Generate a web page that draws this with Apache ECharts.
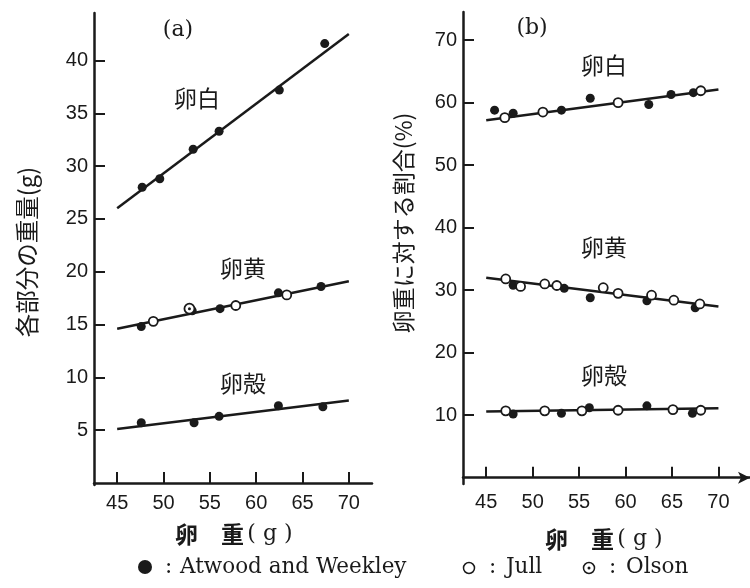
<!DOCTYPE html>
<html><head><meta charset="utf-8">
<script src="https://cdn.jsdelivr.net/npm/echarts@6/dist/echarts.min.js"></script>
<style>html,body{margin:0;padding:0;background:#fff}#c{width:750px;height:588px}</style>
</head><body><div id="c"></div>
<script>
// ---- data ----
const xTicks = [45, 50, 55, 60, 65, 70];
const leftYTicks = [5, 10, 15, 20, 25, 30, 35, 40];
const rightYTicks = [10, 20, 30, 40, 50, 60, 70];

// (a) weight of each part (g)
const aWhiteAW = [[47.7,28.0],[49.6,28.8],[53.2,31.6],[56.0,33.3],[62.5,37.2],[67.4,41.6]];
const aWhiteLine = [[45,26.0],[70,42.5]];
const aYolkAW = [[47.6,14.8],[53.1,16.3],[56.1,16.5],[62.4,18.0],[67.0,18.6]];
const aYolkJull = [[48.9,15.3],[57.8,16.8],[63.3,17.8]];
const aYolkOlson = [[52.8,16.5]];
const aYolkLine = [[45,14.6],[70,19.1]];
const aShellAW = [[47.6,5.7],[53.3,5.7],[56.0,6.3],[62.4,7.3],[67.2,7.2]];
const aShellLine = [[45,5.1],[70,7.8]];

// (b) ratio to egg weight (%)
const bWhiteAW = [[45.9,58.8],[47.9,58.3],[53.1,58.8],[56.2,60.7],[62.5,59.7],[64.9,61.3],[67.3,61.6]];
const bWhiteJull = [[47.0,57.6],[51.1,58.5],[59.2,60.0],[68.1,61.9]];
const bWhiteLine = [[45,57.2],[70,62.1]];
const bYolkAW = [[47.9,30.8],[53.4,30.3],[56.2,28.8],[62.3,28.3],[67.5,27.2]];
const bYolkJull = [[47.1,31.8],[48.7,30.6],[51.3,31.0],[52.6,30.75],[57.6,30.4],[59.2,29.5],[62.8,29.2],[65.2,28.4],[68.0,27.8]];
const bYolkLine = [[45,32.0],[70,27.4]];
const bShellAW = [[47.9,10.2],[53.1,10.3],[56.1,11.2],[62.3,11.5],[67.2,10.3]];
const bShellJull = [[47.1,10.7],[51.3,10.7],[55.3,10.7],[59.2,10.8],[65.1,10.9],[68.1,10.8]];
const bShellLine = [[45,10.6],[70,11.1]];

const legendNames = ['Atwood and Weekley', 'Jull', 'Olson'];

// ---- chart ----
const INK = '#1a1a1a';
const numFont = 'Liberation Sans';
const cjk = '"Noto Sans CJK JP"';
const serif = 'DejaVu Serif';

function xAxis(gi, max, arrow) {
  return {
    type: 'value', gridIndex: gi, min: 42.5, max: max,
    axisLine: { show: true, symbol: arrow ? ['none', 'arrow'] : 'none', symbolSize: [9, 12],
      lineStyle: { color: INK, width: 2.5 } },
    axisTick: { show: true, inside: true, length: 11, lineStyle: { color: INK, width: 2 }, customValues: xTicks },
    axisLabel: { margin: 8, fontFamily: numFont, fontSize: 20, color: INK, customValues: xTicks },
    splitLine: { show: false }
  };
}
function yAxis(gi, min, max, ticks) {
  return {
    type: 'value', gridIndex: gi, min: min, max: max,
    axisLine: { show: true, lineStyle: { color: INK, width: 2.5 } },
    axisTick: { show: true, inside: true, length: 11, lineStyle: { color: INK, width: 2 }, customValues: ticks },
    axisLabel: { margin: 6, fontFamily: numFont, fontSize: 20, color: INK, customValues: ticks },
    splitLine: { show: false }
  };
}
function line(data, xi) {
  return { type: 'line', xAxisIndex: xi, yAxisIndex: xi, data: data, symbol: 'none',
    lineStyle: { color: INK, width: 2.5 }, silent: true, z: 2 };
}
function filled(data, xi) {
  return { type: 'scatter', name: legendNames[0], xAxisIndex: xi, yAxisIndex: xi, data: data,
    symbol: 'circle', symbolSize: 9, itemStyle: { color: INK, opacity: 1 }, z: 3 };
}
function open(data, xi) {
  return { type: 'scatter', name: legendNames[1], xAxisIndex: xi, yAxisIndex: xi, data: data,
    symbol: 'circle', symbolSize: 9, itemStyle: { color: '#fff', borderColor: INK, borderWidth: 1.8, opacity: 1 }, z: 4 };
}
function olson(data, xi) {
  return [
    { type: 'scatter', name: legendNames[2], xAxisIndex: xi, yAxisIndex: xi, data: data,
      symbol: 'circle', symbolSize: 10, itemStyle: { color: '#fff', borderColor: INK, borderWidth: 1.8, opacity: 1 }, z: 4 },
    { type: 'scatter', name: legendNames[2], xAxisIndex: xi, yAxisIndex: xi, data: data,
      symbol: 'circle', symbolSize: 3, itemStyle: { color: INK, opacity: 1 }, z: 5 }
  ];
}
function txt(x, y, text, size, font, extra) {
  return Object.assign({ type: 'text', x: x, y: y, style: { text: text, fill: INK, fontSize: size, fontFamily: font,
    align: 'center', verticalAlign: 'middle' } }, extra || {});
}
function xName(x, y) {
  return { type: 'text', x: x, y: y, style: {
    text: '{c|卵　重} {s|( g )}', verticalAlign: 'middle', align: 'left',
    rich: {
      c: { fontFamily: cjk, fontSize: 23, fontWeight: 'bold', fill: INK },
      s: { fontFamily: serif, fontSize: 22, fill: INK }
    } } };
}
function legText(x, text) {
  return { type: 'text', x: x, y: 567, style: { text: text, fill: INK, fontSize: 21.5, fontFamily: serif, verticalAlign: 'middle' } };
}

const chart = echarts.init(document.getElementById('c'), null, { renderer: 'canvas' });
chart.setOption({
  backgroundColor: '#fff',
  animation: false,
  grid: [
    { left: 94, top: 13, width: 278, height: 472 },
    { left: 463, top: 12, width: 287, height: 472 }
  ],
  xAxis: [ xAxis(0, 72.5, false), xAxis(1, 73.4, true) ],
  yAxis: [ yAxis(0, -0.2, 44.5, leftYTicks), yAxis(1, -1, 74.5, rightYTicks) ],
  series: [
    line(aWhiteLine, 0), line(aYolkLine, 0), line(aShellLine, 0),
    filled(aWhiteAW, 0), filled(aYolkAW, 0), open(aYolkJull, 0), ...olson(aYolkOlson, 0), filled(aShellAW, 0),
    line(bWhiteLine, 1), line(bYolkLine, 1), line(bShellLine, 1),
    filled(bWhiteAW, 1), open(bWhiteJull, 1),
    filled(bYolkAW, 1), open(bYolkJull, 1),
    filled(bShellAW, 1), open(bShellJull, 1)
  ],
  graphic: [
    txt(178, 30, '(a)', 22, serif),
    txt(532, 28, '(b)', 22, serif),
    txt(197, 98, '卵白', 23, cjk),
    txt(243, 268, '卵黄', 23, cjk),
    txt(243, 383, '卵殻', 23, cjk),
    txt(604, 65, '卵白', 23, cjk),
    txt(604, 247, '卵黄', 23, cjk),
    txt(604, 375, '卵殻', 23, cjk),
    txt(27, 252, '各部分の重量(g)', 23.5, cjk, { rotation: Math.PI / 2 }),
    txt(403, 223, '卵重に対する割合(%)', 23, cjk, { rotation: Math.PI / 2 }),
    xName(175, 534),
    xName(545, 539),
    // legend
    { type: 'circle', shape: { cx: 145, cy: 567, r: 7 }, style: { fill: INK } },
    legText(165, ':'),
    legText(180, legendNames[0]),
    { type: 'circle', shape: { cx: 469, cy: 568, r: 5.5 }, style: { fill: '#fff', stroke: INK, lineWidth: 1.5 } },
    legText(489, ':'),
    legText(506, legendNames[1]),
    { type: 'circle', shape: { cx: 589, cy: 568, r: 5.5 }, style: { fill: '#fff', stroke: INK, lineWidth: 1.5 } },
    { type: 'circle', shape: { cx: 589, cy: 568, r: 1.5 }, style: { fill: INK } },
    legText(609, ':'),
    legText(626, legendNames[2])
  ]
});
</script></body></html>
